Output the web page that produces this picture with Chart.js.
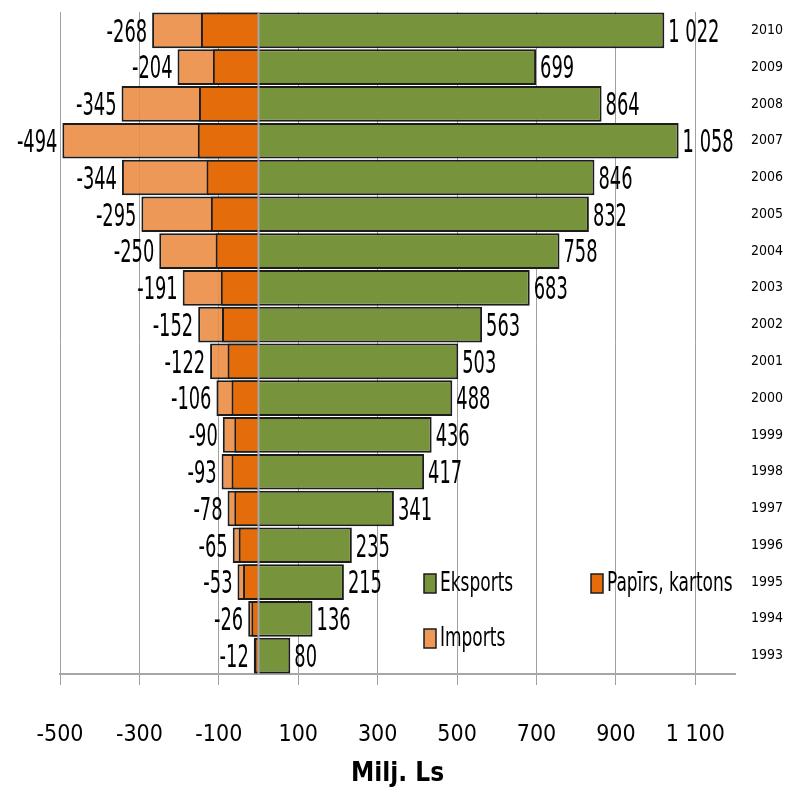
<!DOCTYPE html>
<html>
<head>
<meta charset="utf-8">
<script src="https://cdn.jsdelivr.net/npm/chart.js@4.4.1/dist/chart.umd.min.js"></script>
<style>
    body { margin: 0; background: #fff; }
    #trade-chart { display: block; }
</style>
</head>
<body>
<canvas id="trade-chart" width="786" height="792"></canvas>
<script>
    // Paper & board trade, million lats, newest year on top.
    var years      = ['2010', '2009', '2008', '2007', '2006', '2005', '2004', '2003', '2002',
                      '2001', '2000', '1999', '1998', '1997', '1996', '1995', '1994', '1993'];
    var exportVals = [1022, 699, 864, 1058, 846, 832, 758, 683, 563,
                      503, 488, 436, 417, 341, 235, 215, 136, 80];
    var importVals = [-268, -204, -345, -494, -344, -295, -250, -191, -152,
                      -122, -106, -90, -93, -78, -65, -53, -26, -12];
    var paperVals  = [-145, -115, -150, -153, -131, -120, -108, -95, -92,
                      -78, -68, -61, -68, -61, -50, -39, -18, -10];
    var xTicks     = [-500, -300, -100, 100, 300, 500, 700, 900, 1100];

    var FONT = "'Liberation Sans Narrow', 'DejaVu Sans Condensed', 'Arial Narrow', sans-serif";

    function fmt(v) {
        var s = String(Math.abs(v)).replace(/\B(?=(\d{3})+(?!\d))/g, ' ');
        return (v < 0 ? '-' : '') + s;
    }

    // narrow text: squeeze horizontally around the anchor point
    function squeezeText(ctx, txt, x, y, sx) {
        ctx.save();
        ctx.translate(x, y);
        ctx.scale(sx, 1);
        ctx.fillText(txt, 0, 0);
        ctx.restore();
    }

    // value labels at the bar ends + the gray line at zero
    var barExtras = {
        id: 'barExtras',
        afterDatasetsDraw(chart) {
            var ctx = chart.ctx;
            var area = chart.chartArea;
            var x0 = chart.scales.x.getPixelForValue(0);
            ctx.save();
            ctx.strokeStyle = '#a6a6a6';
            ctx.lineWidth = 2;
            ctx.beginPath();
            ctx.moveTo(x0, area.top);
            ctx.lineTo(x0, area.bottom);
            ctx.stroke();

            ctx.font = '32px ' + FONT;
            ctx.fillStyle = '#000';
            ctx.textBaseline = 'middle';
            chart.data.datasets.forEach(function (ds, di) {
                if (!ds.showValues) return;
                chart.getDatasetMeta(di).data.forEach(function (bar, i) {
                    var v = ds.data[i];
                    if (v >= 0) {
                        ctx.textAlign = 'left';
                        squeezeText(ctx, fmt(v), bar.x + 4, bar.y + 3, 0.62);
                    } else {
                        ctx.textAlign = 'right';
                        squeezeText(ctx, fmt(v), bar.x - 5, bar.y + 3, 0.62);
                    }
                });
            });
            ctx.restore();
        }
    };

    // legend sits inside the plot, lower right
    var innerLegend = {
        id: 'innerLegend',
        afterDraw(chart) {
            var ctx = chart.ctx;
            var spots = [[424, 583], [591, 583], [424, 638]];
            ctx.save();
            ctx.font = '27px ' + FONT;
            ctx.textBaseline = 'middle';
            ctx.textAlign = 'left';
            chart.data.datasets.forEach(function (ds, i) {
                var p = spots[i];
                ctx.fillStyle = ds.backgroundColor;
                ctx.fillRect(p[0], p[1] - 9, 12, 19);
                ctx.strokeStyle = '#1c1c1c';
                ctx.lineWidth = 1.5;
                ctx.strokeRect(p[0], p[1] - 9, 12, 19);
                ctx.fillStyle = '#000';
                squeezeText(ctx, ds.label, p[0] + 16, p[1] + 1, 0.7);
            });
            ctx.restore();
        }
    };

    var barStyle = {
        borderColor: '#1c1c1c',
        borderWidth: 2,
        grouped: false,
        barPercentage: 0.97,
        categoryPercentage: 1
    };

    var chart = new Chart(document.getElementById('trade-chart'), {
        type: 'bar',
        data: {
            labels: years,
            datasets: [
                Object.assign({ label: 'Eksports', data: exportVals, backgroundColor: '#77933C', showValues: true }, barStyle),
                Object.assign({ label: 'Papīrs, kartons', data: paperVals, backgroundColor: '#E46C0A' }, barStyle),
                Object.assign({ label: 'Imports', data: importVals, backgroundColor: 'rgba(235,141,68,0.9)', showValues: true }, barStyle)
            ]
        },
        options: {
            indexAxis: 'y',
            responsive: false,
            animation: false,
            layout: { padding: { left: 60, top: 12, right: 0, bottom: 0 } },
            plugins: {
                legend: { display: false },
                tooltip: { enabled: false }
            },
            scales: {
                x: {
                    type: 'linear',
                    min: -500,
                    max: 1200,
                    afterBuildTicks: function (s) {
                        s.ticks = xTicks.map(function (v) { return { value: v }; });
                    },
                    afterFit: function (s) {
                        s.height = 118;
                        s.paddingLeft = 0;
                        s.paddingRight = 0;
                    },
                    grid: { color: '#a0a0a0', tickLength: 11 },
                    border: { color: '#a6a6a6', width: 2 },
                    ticks: {
                        font: { family: FONT, size: 23 },
                        color: '#000',
                        padding: 36,
                        maxRotation: 0,
                        callback: function (v) { return fmt(v); }
                    },
                    title: {
                        display: true,
                        text: 'Milj. Ls',
                        color: '#000',
                        font: { family: FONT, size: 26, weight: 'bold' },
                        padding: { top: 0, bottom: 2 }
                    }
                },
                y: {
                    position: 'right',
                    afterFit: function (s) {
                        s.width = 51;
                        s.paddingTop = 0;
                        s.paddingBottom = 0;
                    },
                    grid: { display: false, drawTicks: false },
                    border: { display: false },
                    ticks: {
                        font: { family: FONT, size: 14 },
                        color: '#000',
                        padding: 16
                    }
                }
            }
        },
        plugins: [barExtras, innerLegend]
    });
</script>
</body>
</html>
